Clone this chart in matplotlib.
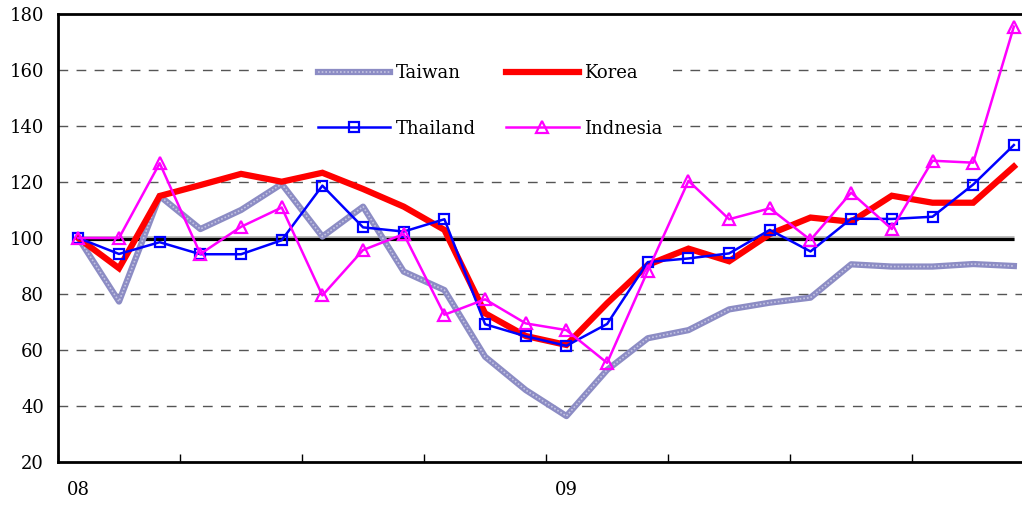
import numpy as np
import matplotlib
matplotlib.use("Agg")
import matplotlib.pyplot as plt
from matplotlib.legend_handler import HandlerTuple

plt.rcParams['font.family'] = ['DejaVu Serif']

# monthly index, Jan 2008 = 100
months = np.arange(24) + 0.5
taiwan = [100, 77.3, 115, 103.2, 110, 119.3, 100.5, 111.2, 88, 81.4, 57.6, 45.7,
          36.4, 52.9, 64.2, 67.1, 74.5, 76.9, 78.7, 90.6, 89.8, 89.8, 90.7, 90]
korea = [100, 89.2, 115, 118.9, 122.9, 120.1, 123.3, 117.5, 111.2, 102.9, 73.1, 65,
         61.8, 76.7, 90.4, 96.2, 91.7, 101.4, 107.3, 105.8, 115.1, 112.6, 112.6, 125.5]
thailand = [100, 94.3, 98.5, 94.2, 94.2, 99.2, 118.7, 103.8, 102.3, 106.7, 69.2, 64.9,
            61.5, 69.3, 91.4, 92.7, 94.5, 102.9, 95.2, 106.9, 106.8, 107.6, 119.1, 133.2]
indonesia = [100, 100, 126.7, 94.3, 104, 110.9, 79.5, 95.7, 101.4, 72.6, 78.1, 69.5,
             67.1, 55.4, 88.3, 120.4, 106.7, 110.6, 99.3, 116.2, 103.2, 127.6, 126.9, 175.5]
year_labels = ['08', '09']
year_pos = [0.5, 12.5]

fig = plt.figure(figsize=(10.22, 5.05), dpi=100)
ax = fig.add_axes([58 / 1022, 1 - 462 / 505, 1 - 58 / 1022, (462 - 14) / 505])

ax.set_xlim(0, 23.7)
ax.set_ylim(20, 180)

# dashed grid, the 100 line is drawn separately
for v in [40, 60, 80, 120, 140, 160]:
    ax.axhline(v, color='#555555', lw=1, dashes=(7, 6), zorder=1)
ax.plot([months[0], months[-1]], [100, 100], color='#bbbbbb', lw=3.5, zorder=2,
        solid_capstyle='butt')
ax.plot([months[0], months[-1]], [99.6, 99.6], color='black', lw=2.3, zorder=2.1,
        solid_capstyle='butt')

tw_base, = ax.plot(months, taiwan, color='#8c8cc4', lw=4.5, zorder=3)
tw_dots, = ax.plot(months, taiwan, color='#c4c4e2', lw=1.2, ls=(0, (1, 1.2)), zorder=3.1)
kr, = ax.plot(months, korea, color='#ff0000', lw=4.5, zorder=4, solid_joinstyle='miter')
th, = ax.plot(months, thailand, color='#0000ff', lw=1.8, marker='s', ms=7,
              mfc='none', mec='#0000ff', mew=1.6, zorder=5)
idn, = ax.plot(months, indonesia, color='#ff00ff', lw=1.8, marker='^', ms=8,
               mfc='none', mec='#ff00ff', mew=1.6, zorder=6)

ax.set_yticks(range(20, 181, 20))
ax.tick_params(axis='y', length=0, pad=10, labelsize=13)
ax.set_xticks(range(0, 24, 3))
ax.tick_params(axis='x', which='major', direction='in', length=6, width=1,
               labelbottom=False)
ax.set_xticks(year_pos, minor=True)
ax.set_xticklabels(year_labels, minor=True)
ax.tick_params(axis='x', which='minor', length=0, pad=14, labelsize=13)

for s in ['left', 'bottom', 'top']:
    ax.spines[s].set_linewidth(2)
ax.spines['right'].set_visible(False)

leg = ax.legend([(tw_base, tw_dots), th, kr, idn],
                ['Taiwan', 'Thailand', 'Korea', 'Indnesia'],
                handler_map={tuple: HandlerTuple(ndivide=1, pad=0)},
                ncol=2, loc='upper left', bbox_to_anchor=(298 / 1022, 1 - 44 / 505),
                bbox_transform=fig.transFigure, fontsize=13, handlelength=4,
                handletextpad=0.3, columnspacing=1.7, labelspacing=2.1,
                frameon=True, fancybox=False, borderpad=0.6)
leg.get_frame().set_facecolor('white')
leg.get_frame().set_edgecolor('none')
leg.get_frame().set_alpha(1)
leg.set_zorder(10)

fig.savefig('out.png', dpi=100)
